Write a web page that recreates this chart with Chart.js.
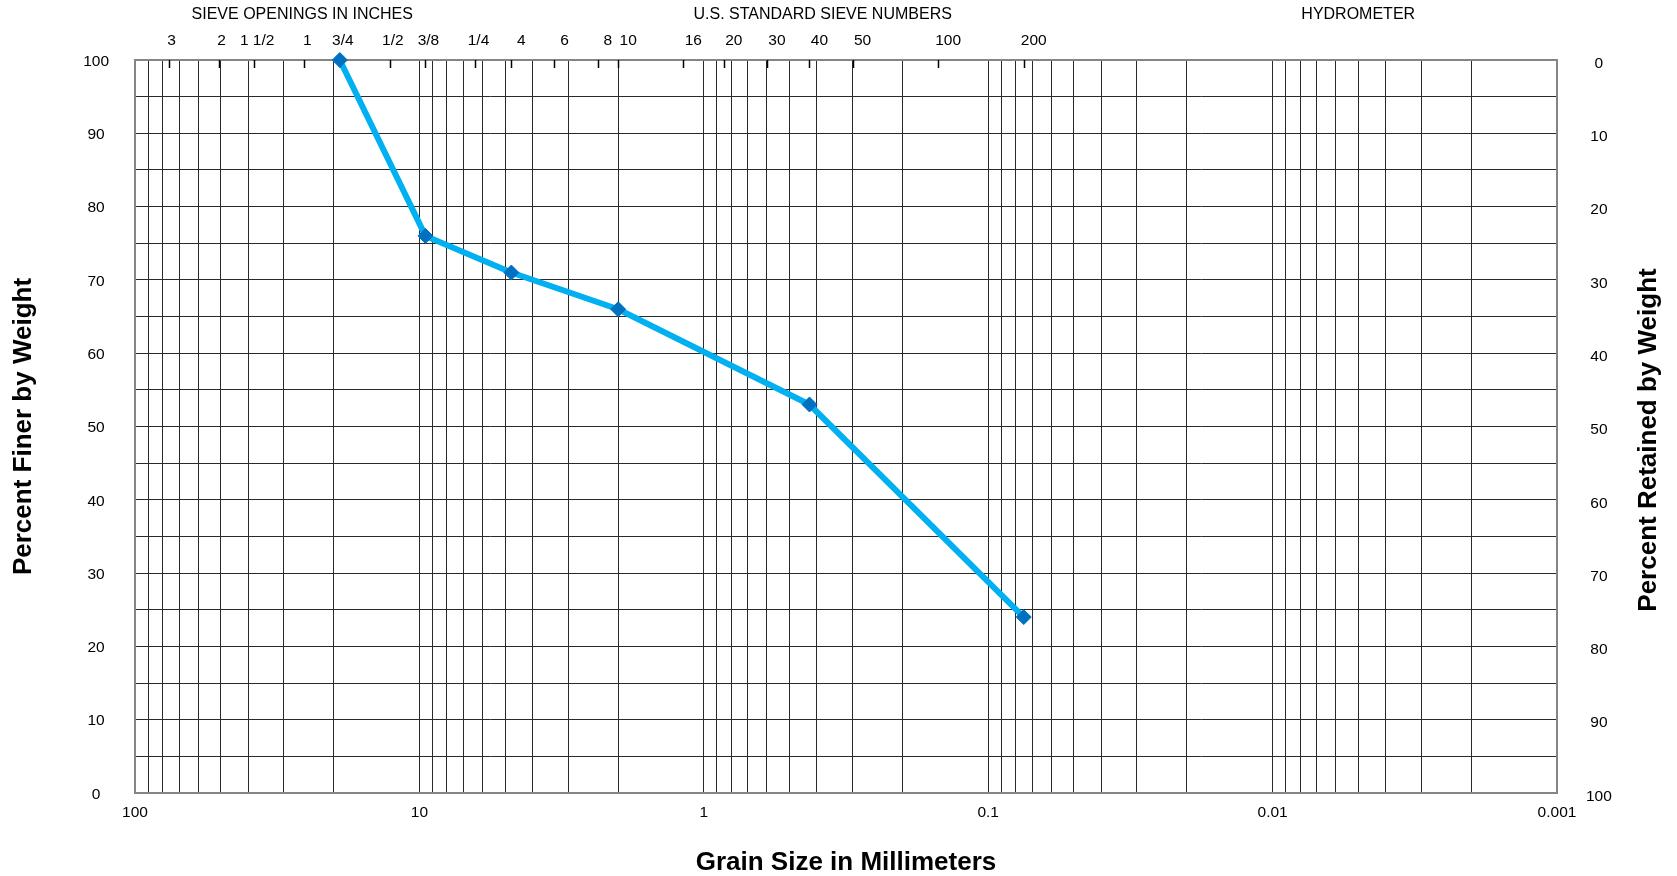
<!DOCTYPE html>
<html lang="en">
<head>
<meta charset="UTF-8">
<title>Grain Size Distribution</title>
<script src="https://cdn.jsdelivr.net/npm/chart.js@4.4.1/dist/chart.umd.min.js"></script>
<style>
  body { margin: 0; background: #fff; }
  #wrap { width: 1677px; height: 876px; }
</style>
</head>
<body>
<div id="wrap"><canvas id="gradation" width="1677" height="876"></canvas></div>
<script>
// sieve openings (mm) and the names printed above them
const inchSieveLabels = ['3', '2', '1 1/2', '1', '3/4', '1/2', '3/8', '1/4'];
const inchSieveSizes = [76.2, 50.8, 38.1, 25.4, 19.05, 12.7, 9.525, 6.35];
const numberSieveLabels = ['4', '6', '8', '10', '16', '20', '30', '40', '50', '100', '200'];
const numberSieveSizes = [4.75, 3.35, 2.36, 2.0, 1.18, 0.85, 0.6, 0.425, 0.3, 0.15, 0.075];

// test results
const grainSize = [19.05, 9.525, 4.75, 2.0, 0.425, 0.075];
const percentFiner = [100, 76, 71, 66, 53, 24];

// axis ticks
const decadeValues = [100, 10, 1, 0.1, 0.01, 0.001];
const decadeLabels = ['100', '10', '1', '0.1', '0.01', '0.001'];

const FONT = '"Liberation Sans", Arial, sans-serif';
const GRID = '#2a2a2a';

Chart.defaults.font.family = FONT;
Chart.defaults.color = '#000';

function decadeLabel(value) {
    for (let i = 0; i < decadeValues.length; i++) {
        if (Math.abs(value / decadeValues[i] - 1) < 1e-9) return decadeLabels[i];
    }
    return '';
}

// frame, sieve tick marks, the text rows above the plot and the right title
const sievePlugin = {
    id: 'sieveRows',
    beforeDatasetsDraw(chart) {
        const {ctx, chartArea: a, scales: {x}} = chart;
        ctx.save();
        ctx.strokeStyle = '#858585';
        ctx.lineWidth = 2;
        ctx.strokeRect(a.left, a.top, a.right - a.left, a.bottom - a.top);

        ctx.strokeStyle = '#000';
        ctx.lineWidth = 1.5;
        inchSieveSizes.concat(numberSieveSizes).forEach(size => {
            const px = Math.round(x.getPixelForValue(size)) + 0.5;
            ctx.beginPath();
            ctx.moveTo(px, a.top);
            ctx.lineTo(px, a.top + 8);
            ctx.stroke();
        });
        ctx.restore();
    },
    afterDraw(chart) {
        const {ctx, scales: {x}} = chart;
        ctx.save();
        ctx.fillStyle = '#000';
        ctx.textAlign = 'center';
        ctx.textBaseline = 'middle';

        ctx.font = '16px ' + FONT;
        ctx.fillText('SIEVE OPENINGS IN INCHES', x.getPixelForValue(25.4) - 2, 15);
        ctx.fillText('U.S. STANDARD SIEVE NUMBERS', x.getPixelForValue(0.382), 15);
        ctx.fillText('HYDROMETER', x.getPixelForValue(0.005), 15);

        ctx.font = '15.5px ' + FONT;
        inchSieveSizes.forEach((size, i) => {
            ctx.fillText(inchSieveLabels[i], x.getPixelForValue(size) + 3, 41);
        });
        numberSieveSizes.forEach((size, i) => {
            ctx.fillText(numberSieveLabels[i], x.getPixelForValue(size) + 10, 41);
        });

        // right axis title reads bottom to top, like the left one
        ctx.font = 'bold 26px ' + FONT;
        ctx.translate(1649, 440);
        ctx.rotate(-Math.PI / 2);
        ctx.fillText('Percent Retained by Weight', 0, 0);
        ctx.restore();
    }
};

const titleFont = {size: 26, weight: 'bold', lineHeight: 1.0};

new Chart(document.getElementById('gradation'), {
    type: 'line',
    data: {
        datasets: [{
            label: 'Percent Finer',
            data: grainSize.map((g, i) => ({x: g, y: percentFiner[i]})),
            borderColor: '#00B0F0',
            borderWidth: 6,
            pointStyle: 'rectRot',
            pointRadius: 7.5,
            pointBackgroundColor: '#0070C0',
            pointBorderColor: '#0070C0',
            pointBorderWidth: 1,
            tension: 0,
            clip: false
        }]
    },
    options: {
        responsive: false,
        animation: false,
        layout: {padding: {top: 60, left: 0, right: 0, bottom: 0}},
        plugins: {legend: {display: false}, tooltip: {enabled: false}},
        scales: {
            x: {
                type: 'logarithmic',
                position: 'bottom',
                min: 0.001,
                max: 100,
                reverse: true,
                afterBuildTicks: scale => {
                    const ticks = [];
                    for (let i = 1; i < decadeValues.length; i++) {
                        for (let m = 1; m < 10; m++) ticks.push({value: decadeValues[i] * m});
                    }
                    ticks.push({value: decadeValues[0]});
                    scale.ticks = ticks;
                },
                afterFit: scale => { scale.height = 83; },
                grid: {color: GRID, lineWidth: 1, drawTicks: false},
                border: {display: false},
                ticks: {
                    padding: 10,
                    autoSkip: false,
                    maxRotation: 0,
                    font: {size: 15.5},
                    callback: value => decadeLabel(value)
                },
                title: {display: true, text: 'Grain Size in Millimeters', font: titleFont, padding: {top: 0, bottom: 0}}
            },
            y: {
                position: 'left',
                min: 0,
                max: 100,
                afterFit: scale => { scale.width = 135; },
                grid: {color: GRID, lineWidth: 1, drawTicks: false},
                border: {display: false},
                ticks: {
                    stepSize: 5,
                    padding: 26,
                    labelOffset: 1.5,
                    crossAlign: 'center',
                    font: {size: 15.5},
                    callback: value => (value % 10 === 0 ? value : '')
                },
                title: {display: true, text: 'Percent Finer by Weight', font: titleFont, padding: {top: 11, bottom: 0}}
            },
            y2: {
                position: 'right',
                min: 0,
                max: 100,
                reverse: true,
                afterFit: scale => { scale.width = 120; },
                grid: {display: false, drawTicks: false},
                border: {display: false},
                ticks: {
                    stepSize: 10,
                    padding: 29,
                    labelOffset: 3.5,
                    crossAlign: 'center',
                    font: {size: 15.5}
                }
            }
        }
    },
    plugins: [sievePlugin]
});
</script>
</body>
</html>
